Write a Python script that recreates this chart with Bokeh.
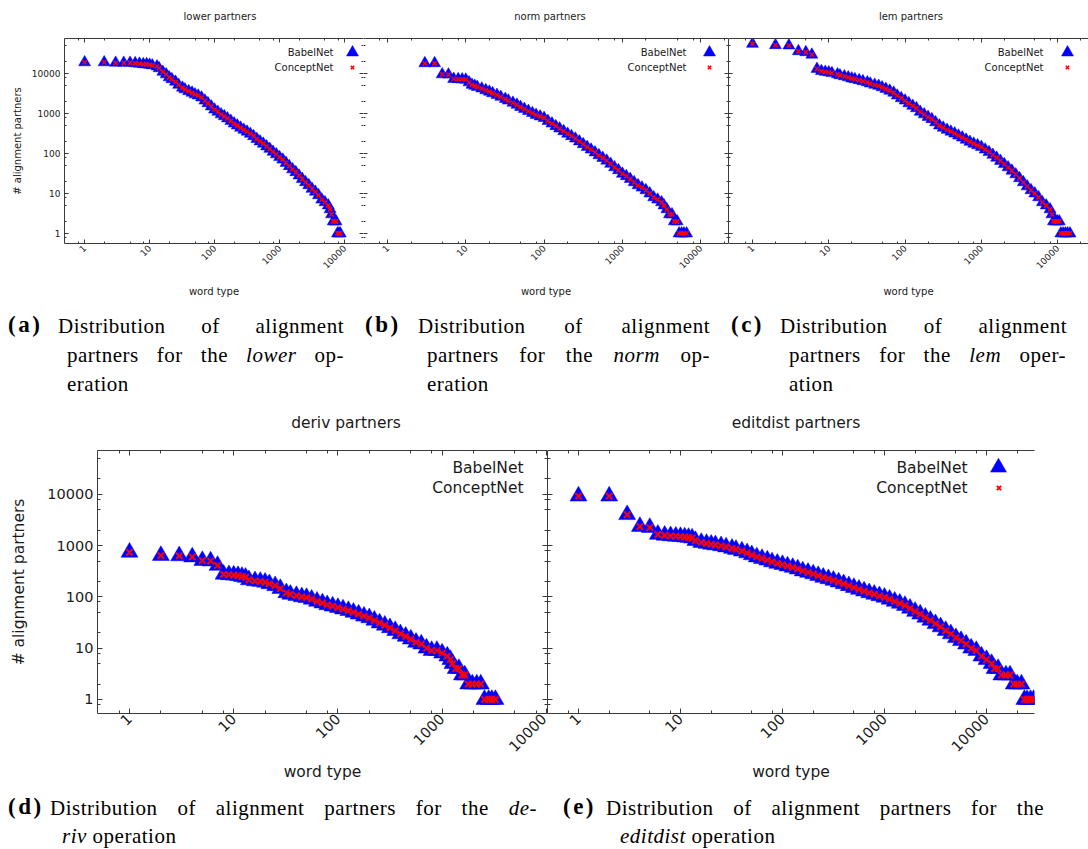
import math
from bokeh.plotting import figure
from bokeh.models import (ColumnDataSource, Range1d, LogAxis, FixedTicker,
                          PrintfTickFormatter, Legend, LegendItem, Label, Div)
from bokeh.layouts import column, row
from bokeh.embed import file_html
from bokeh.resources import INLINE

# ---------------- data ----------------
lower_rank = [1, 2, 3, 4, 5, 6, 7, 8, 9, 10, 11, 13, 14, 16, 18, 20, 22, 25, 28,
              32, 35, 40, 45, 50, 56, 63, 71, 79, 89, 100, 112, 126, 141, 158, 178,
              200, 224, 251, 282, 316, 355, 398, 447, 501, 562, 631, 708, 794, 891,
              1000, 1122, 1259, 1413, 1585, 1778, 1995, 2239, 2512, 2818, 3162, 3548,
              3981, 4467, 5012, 5623, 6000, 6310, 6700, 7000, 7400, 7800, 8200, 8600]
lower_babelnet = [19000, 19000, 18500, 18500, 18500, 18000, 17500, 17000, 17000, 16500,
                  16000, 15000, 13500, 11000, 9500, 8000, 7200, 6200, 5200,
                  4400, 4000, 3600, 3300, 3000, 2800, 2500, 2100, 1800, 1500,
                  1250, 1100, 950, 850, 750, 650, 560, 500, 440, 390,
                  350, 310, 270, 230, 200, 175, 150, 130, 110, 95,
                  81, 70, 58, 48, 40, 34, 28, 23, 19, 16,
                  13, 11, 9, 7, 6, 5, 4, 3, 2, 2, 2, 1, 1, 1]
lower_conceptnet = list(lower_babelnet)

norm_rank = [3, 4, 5, 6, 7, 8, 9, 10, 11, 12, 13, 14, 16, 18, 20, 22, 25, 28,
             32, 35, 40, 45, 50, 56, 63, 71, 79, 89, 100, 112, 126, 141, 158, 178,
             200, 224, 251, 282, 316, 355, 398, 447, 501, 562, 631, 708, 794, 891,
             1000, 1122, 1259, 1413, 1585, 1778, 1995, 2239, 2512, 2818, 3162, 3400,
             3700, 4000, 4300, 4600, 5000, 5300, 5700, 6100, 6600]
norm_babelnet = [18000, 18000, 9500, 9400, 7300, 7200, 7100, 7000,
                 6000, 5200, 4900, 4600, 4200, 3800, 3500, 3200, 2900, 2600,
                 2300, 2100, 1850, 1650, 1450, 1300, 1150, 1020, 920, 840,
                 770, 650, 560, 480, 420, 360, 310, 270, 235, 200,
                 170, 145, 125, 106, 90, 77, 66, 55, 45, 38,
                 31, 27, 23, 19, 16, 14, 12, 10, 8, 7,
                 6, 5, 4, 3, 3, 2, 2, 1, 1, 1, 1]
norm_conceptnet = list(norm_babelnet)

lem_rank = [1, 2, 3, 4, 5, 6, 7, 8, 9, 10, 11, 13, 14, 16, 18, 20, 22, 25, 28,
            32, 35, 40, 45, 50, 56, 63, 71, 79, 89, 100, 112, 126, 141, 158, 178,
            200, 224, 251, 282, 316, 355, 398, 447, 501, 562, 631, 708, 794, 891,
            1000, 1122, 1259, 1413, 1585, 1778, 1995, 2239, 2512, 2818, 3162, 3548,
            3981, 4467, 5012, 5623, 6310, 7079, 7943, 8400, 8800, 9300, 9900,
            10500, 11000, 11800, 12600, 13500, 14500]
lem_babelnet = [55000, 51000, 50000, 36000, 34000, 29500, 13000, 11500, 11000, 10700,
                10200, 9500, 9000, 8500, 8000, 7500, 7200, 6800, 6400,
                6000, 5600, 5200, 4900, 4500, 4100, 3700, 3300, 2800, 2400,
                2100, 1800, 1550, 1350, 1100, 950, 820, 720, 600, 500,
                440, 390, 350, 315, 280, 250, 220, 195, 175, 160,
                145, 125, 108, 92, 78, 65, 54, 45, 37, 30,
                24, 19, 15, 12, 10, 8, 6, 5, 4,
                3, 2, 2, 2, 2, 1, 1, 1, 1, 1]
lem_conceptnet = list(lem_babelnet)

deriv_rank = [1, 2, 3, 4, 5, 6, 7, 8, 9, 10, 11, 12, 13, 14, 16, 18, 20, 22, 25, 28,
              32, 35, 40, 45, 50, 56, 63, 71, 79, 89, 100, 112, 126, 141, 158, 178,
              200, 224, 251, 282, 316, 355, 398, 447, 501, 562, 631, 708, 794, 891,
              1000, 1122, 1200, 1259, 1350, 1450, 1550, 1650, 1780, 1950, 2150, 2350,
              2550, 2800, 3000, 3250]
deriv_babelnet = [740, 640, 630, 600, 510, 500, 410, 275, 270, 265, 260, 250, 240, 215,
                  205, 200, 193, 180, 165, 145,
                  120, 112, 106, 100, 97, 90, 82, 76, 70, 66,
                  62, 58, 54, 50, 46, 42, 39, 35, 31, 28,
                  25, 22, 19, 17, 15, 13, 12, 10, 9, 9,
                  8, 7, 6, 5, 4, 4, 3, 3, 2, 2, 2, 2, 1, 1, 1, 1]
deriv_conceptnet = list(deriv_babelnet)

editdist_rank = [1, 2, 3, 4, 5, 6, 7, 8, 9, 10, 11, 12, 13, 14, 16, 18, 20, 22, 25, 28,
                 32, 35, 40, 45, 50, 56, 63, 71, 79, 89, 100, 112, 126, 141, 158, 178,
                 200, 224, 251, 282, 316, 355, 398, 447, 501, 562, 631, 708, 794, 891,
                 1000, 1122, 1259, 1413, 1585, 1778, 1995, 2239, 2512, 2818, 3162, 3548,
                 3981, 4467, 5012, 5623, 6310, 7079, 7943, 8913, 10000, 11220, 12000,
                 13000, 14000, 15500, 17000, 18500, 20000, 22000, 23500, 25000, 27000, 29000]
editdist_babelnet = [9200, 9200, 4000, 2350, 2250, 1650, 1580, 1550, 1520, 1500, 1470, 1440,
                     1400, 1250, 1150, 1100, 1060, 1030, 990, 940,
                     880, 840, 780, 720, 660, 600, 560, 520, 480, 450,
                     425, 400, 375, 350, 320, 300, 280, 260, 240, 225,
                     210, 195, 180, 165, 152, 140, 130, 120, 112, 105,
                     98, 90, 82, 75, 68, 60, 52, 46, 40, 35,
                     30, 26, 22, 19, 16, 14, 12, 10, 9, 7,
                     6, 5, 4, 4, 3, 3, 3, 2, 2, 2, 1, 1, 1, 1]
editdist_conceptnet = list(editdist_babelnet)

tick_values = [1, 10, 100, 1000, 10000]
minor_tick_values = [0.8, 2, 5, 8, 20, 50, 80, 200, 500, 800, 2000, 5000, 8000,
                     20000, 50000, 80000]

top_titles = ["lower partners", "norm partners", "lem partners"]
bottom_titles = ["deriv partners", "editdist partners"]

# ---------------- styling helpers ----------------
SANS = "DejaVu Sans"
AXC = "#3a3a3a"
TXT = "#1a1a1a"


def style_axis(ax, big, labels, line, rotate=False):
    ax.ticker = FixedTicker(ticks=tick_values, minor_ticks=minor_tick_values)
    ax.formatter = PrintfTickFormatter(format="%d")
    ax.major_tick_in = 5 if big else 4
    ax.major_tick_out = 0
    ax.minor_tick_in = 3 if big else 2
    ax.minor_tick_out = 0
    ax.major_tick_line_color = AXC
    ax.minor_tick_line_color = AXC
    ax.axis_line_color = AXC if line else None
    if labels:
        ax.major_label_text_font = SANS
        ax.major_label_text_font_size = "14.5px" if big else "9px"
        ax.major_label_text_color = TXT
        ax.axis_label_text_font = SANS
        ax.axis_label_text_font_size = "15.5px" if big else "10px"
        ax.axis_label_text_font_style = "normal"
        ax.axis_label_text_color = TXT
        if rotate:
            ax.major_label_orientation = math.pi / 4
            ax.major_label_standoff = 3
        else:
            ax.major_label_standoff = 4
    else:
        ax.major_label_text_font_size = "0px"
        ax.major_label_text_color = None
        ax.major_label_standoff = 0
        ax.axis_label = None


def glyph_key(p, renderer, box, cx, cy):
    lg = Legend(items=[LegendItem(label=" ", renderers=[renderer])],
                location=(int(round(cx - box / 2)), int(round(cy - box / 2))),
                glyph_width=box, glyph_height=box, padding=0, margin=0,
                spacing=0, label_standoff=0, label_width=0, label_height=0,
                label_text_font_size="1px", border_line_color=None,
                background_fill_alpha=0)
    p.add_layout(lg)


def text_at(p, text, x, y, big):
    p.add_layout(Label(x=x, y=y, x_units="screen", y_units="screen", text=text,
                       text_align="right", text_baseline="middle", text_font=SANS,
                       text_font_size="15.5px" if big else "10px", text_color=TXT))


def panel(ranks, babel, concept, xr, yr, width, height, borders, big,
          ylabels, left_line, right_axis, right_line, key):
    bl, br, bt, bb = borders
    p = figure(width=width, height=height, x_axis_type="log", y_axis_type="log",
               x_range=Range1d(*xr), y_range=Range1d(*yr),
               output_backend="svg", toolbar_location=None,
               min_border_left=bl, min_border_right=br, min_border_top=bt,
               min_border_bottom=bb)
    p.outline_line_color = None
    p.grid.visible = False
    p.background_fill_color = "white"
    p.border_fill_color = "white"

    style_axis(p.xaxis[0], big, True, True, rotate=True)
    p.xaxis[0].axis_label = "word type"
    p.xaxis[0].axis_label_standoff = 4 if big else 11
    style_axis(p.yaxis[0], big, ylabels, left_line)
    if ylabels:
        p.yaxis[0].axis_label = "# alignment partners"
        p.yaxis[0].axis_label_standoff = 16 if big else 6

    top = LogAxis()
    style_axis(top, big, False, True)
    p.add_layout(top, "above")
    if right_axis:
        rgt = LogAxis()
        style_axis(rgt, big, False, right_line)
        p.add_layout(rgt, "right")

    src = ColumnDataSource(dict(rank=ranks, babelnet=babel, conceptnet=concept))
    tri = p.scatter("rank", "babelnet", source=src, marker="triangle",
                    size=17 if big else 12, fill_color="#0000ff",
                    line_color="#0000ff", line_width=0.5)
    crs = p.scatter("rank", "conceptnet", source=src, marker="x",
                    size=9 if big else 6, line_color="#ff0000",
                    line_width=2 if big else 1.5)

    tx, gx, y1, y2, glyphs = key
    text_at(p, "BabelNet", tx, y1, big)
    text_at(p, "ConceptNet", tx, y2, big)
    if glyphs:
        glyph_key(p, tri, 40 if big else 30, gx, y1)
        glyph_key(p, crs, 15 if big else 12, gx, y2)
    return p


TOP_Y = (0.56, 75000)
BOT_Y = (0.533, 71400)

pa = panel(lower_rank, lower_babelnet, lower_conceptnet,
           (0.49, 19600), TOP_Y, 363, 264, (64, 0, 0, 59), False,
           True, True, True, False, (269, 288, 191, 176, True))
pb = panel(norm_rank, norm_babelnet, norm_conceptnet,
           (0.494, 22650), TOP_Y, 365, 264, (0, 0, 0, 59), False,
           False, False, True, False, (323, 346, 191, 176, True))
pc = panel(lem_rank, lem_babelnet, lem_conceptnet,
           (0.485, 25350), TOP_Y, 360, 264, (0, 0, 0, 59), False,
           False, True, False, False, (315, 339, 191, 176, True))
pd = panel(deriv_rank, deriv_babelnet, deriv_conceptnet,
           (0.493, 10270), BOT_Y, 547, 340, (97, 0, 0, 77), True,
           True, True, True, False, (426, 460, 246, 226, False))
pe = panel(editdist_rank, editdist_babelnet, editdist_conceptnet,
           (0.497, 29550), BOT_Y, 541, 340, (0, 54, 0, 77), True,
           False, True, False, False, (420, 451, 246, 226, True))


# ---------------- titles and captions (HTML) ----------------
def title_block(titles, centers, cy, height, size):
    parts = []
    for t, cx in zip(titles, centers):
        parts.append('<div style="position:absolute;left:%dpx;top:%dpx;transform:translate(-50%%,-50%%);'
                     'white-space:nowrap;font-family:DejaVu Sans;font-size:%s;color:%s;">%s</div>'
                     % (cx, cy, size, TXT, t))
    return ('<div style="position:relative;width:1088px;height:%dpx;">%s</div>'
            % (height, "".join(parts)))


SERIF = "Liberation Serif, DejaVu Serif, serif"


def line(left, top, text, width=None, justify=False):
    base = ("position:absolute;left:%dpx;top:%dpx;line-height:26px;font-family:%s;"
            "font-size:21px;letter-spacing:0.5px;" % (left, top, SERIF))
    if justify:
        st = base + "width:%dpx;text-align:justify;text-align-last:justify;" % width
    else:
        st = base + "white-space:nowrap;"
    return '<div style="%s">%s</div>' % (st, text)


def tag(left, top, text):
    return ('<div style="position:absolute;left:%dpx;top:%dpx;line-height:26px;'
            'font-family:%s;font-size:23px;font-weight:bold;letter-spacing:2.5px;">%s</div>'
            % (left, top, SERIF, text))


def caption_block(parts, height):
    inner = "".join(parts)
    return ('<div style="position:relative;width:1088px;height:%dpx;color:#000;">%s</div>'
            % (height, inner))


top_caps = [
    tag(8, 10, "(a)"),
    line(58, 11, "Distribution of alignment", 286, True),
    line(67, 40, "partners for the <i>lower</i> op-", 277, True),
    line(67, 69, "eration"),
    tag(365, 10, "(b)"),
    line(418, 11, "Distribution of alignment", 292, True),
    line(427, 40, "partners for the <i>norm</i> op-", 283, True),
    line(427, 69, "eration"),
    tag(731, 10, "(c)"),
    line(780, 11, "Distribution of alignment", 287, True),
    line(789, 40, "partners for the <i>lem</i> oper-", 277, True),
    line(789, 69, "ation"),
]
bot_caps = [
    tag(8, 4, "(d)"),
    line(50, 5, "Distribution of alignment partners for the <i>de-</i>", 487, True),
    line(62, 33, "<i>riv</i> operation"),
    tag(563, 4, "(e)"),
    line(606, 5, "Distribution of alignment partners for the", 438, True),
    line(620, 33, "<i>editdist</i> operation"),
]

NOM = (0, 0, 0, 0)
head_top = Div(text=title_block(top_titles, [220, 550, 911], 17, 38, "10px"),
               width=1088, height=38, margin=NOM)
head_bot = Div(text=title_block(bottom_titles, [346, 796], 21, 48, "15.5px"),
               width=1088, height=48, margin=NOM)
cap_top = Div(text=caption_block(top_caps, 100), width=1088, height=100, margin=NOM)
cap_bot = Div(text=caption_block(bot_caps, 59), width=1088, height=59, margin=NOM)

layout = column(head_top, row(pa, pb, pc), cap_top, head_bot, row(pd, pe), cap_bot)
open("out.html", "w").write(file_html(layout, INLINE))
